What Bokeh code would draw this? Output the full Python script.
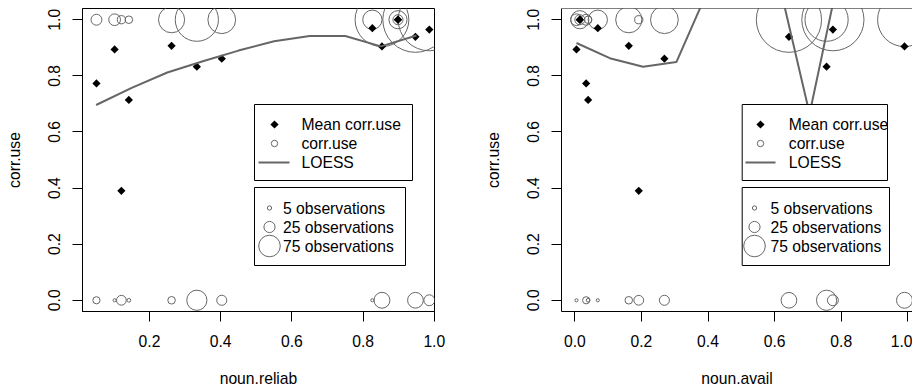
import math
from bokeh.plotting import figure
from bokeh.layouts import row
from bokeh.models import FixedTicker, Span
from bokeh.core.properties import value
from bokeh.embed import file_html
from bokeh.resources import INLINE

# ---------------- data ----------------
# one entry per noun (the noun at reliab 0.898 / avail 0.015 appears twice)
noun_reliab   = [0.051, 0.102, 0.121, 0.142, 0.262, 0.333, 0.403, 0.826, 0.853, 0.898, 0.898, 0.947, 0.986]
noun_avail    = [0.034, 0.005, 0.192, 0.040, 0.162, 0.756, 0.269, 0.069, 0.990, 0.015, 0.015, 0.643, 0.775]
mean_corr_use = [0.773, 0.894, 0.390, 0.714, 0.907, 0.8325, 0.861, 0.970, 0.905, 1.000, 1.000, 0.939, 0.965]
n_corr_use_1  = [24, 27, 15, 13, 103, 238, 114, 62, 343, 21, 56, 473, 437]
n_corr_use_0  = [12, 3, 20, 4, 13, 67, 21, 3, 45, 0, 0, 44, 24]

loess_reliab_x = [0.05, 0.15, 0.25, 0.35, 0.45, 0.55, 0.65, 0.75, 0.85, 0.95]
loess_reliab_y = [0.696, 0.757, 0.812, 0.852, 0.890, 0.923, 0.942, 0.942, 0.905, 0.944]
loess_avail_x  = [0.005, 0.105, 0.205, 0.305, 0.405, 0.505, 0.605, 0.705, 0.805, 0.905, 0.993]
loess_avail_y  = [0.917, 0.863, 0.8325, 0.849, 1.119, 1.25, 1.173, 0.665, 1.224, 1.30, 1.25]

y_ticks = [0.0, 0.2, 0.4, 0.6, 0.8, 1.0]
y_tick_labels = ["0.0", "0.2", "0.4", "0.6", "0.8", "1.0"]
reliab_ticks = [0.2, 0.4, 0.6, 0.8, 1.0]
reliab_tick_labels = ["0.2", "0.4", "0.6", "0.8", "1.0"]
avail_ticks = [0.0, 0.2, 0.4, 0.6, 0.8, 1.0]
avail_tick_labels = ["0.0", "0.2", "0.4", "0.6", "0.8", "1.0"]

legend_labels = ["Mean corr.use", "corr.use", "LOESS"]
legend_obs = [5, 25, 75]
legend_obs_labels = ["5 observations", "25 observations", "75 observations"]

# ---------------- style ----------------
FONT = "Liberation Sans"
FS = "15.7px"
GREY = "#666666"
FRAME_TOP, FRAME_H = 8, 303          # pixel coords of plot region
Y0, Y1 = -0.04, 1.04
HEIGHT = 390


def radius_px(n):
    return 0.81 * n ** 0.6


def build(xvals, xlabel, x0, x1, frame_left, frame_width, border_left, border_right,
          ticks, tick_labels, lx, ly, lg, open_right):
    p = figure(width=border_left + frame_width + border_right, height=HEIGHT,
               x_range=(x0, x1), y_range=(Y0, Y1),
               output_backend="svg", toolbar_location=None,
               min_border_left=border_left, min_border_right=border_right,
               min_border_top=FRAME_TOP, min_border_bottom=HEIGHT - FRAME_TOP - FRAME_H,
               background_fill_color="white", border_fill_color="white")
    p.grid.visible = False

    def X(px):
        return x0 + (px - frame_left) / frame_width * (x1 - x0)

    def Y(py):
        return Y1 - (py - FRAME_TOP) / FRAME_H * (Y1 - Y0)

    if open_right:
        p.outline_line_color = None
        p.add_layout(Span(location=Y1, dimension="width", line_color="black", line_width=1))
    else:
        p.outline_line_color = "black"
        p.outline_line_alpha = 1.0
        p.outline_line_width = 1

    for ax in (p.xaxis[0], p.yaxis[0]):
        ax.major_tick_in = 0
        ax.major_tick_out = 10
        ax.minor_tick_in = 0
        ax.minor_tick_out = 0
        ax.major_tick_line_color = "black"
        ax.axis_line_color = "black"
        ax.major_label_text_font = FONT
        ax.major_label_text_font_size = FS
        ax.major_label_text_color = "black"
        ax.axis_label_text_font = FONT
        ax.axis_label_text_font_size = FS
        ax.axis_label_text_font_style = "normal"
        ax.axis_label_text_color = "black"
    p.xaxis[0].ticker = FixedTicker(ticks=ticks)
    p.xaxis[0].major_label_overrides = {t: l for t, l in zip(ticks, tick_labels)}
    p.xaxis[0].major_label_standoff = 13
    p.xaxis[0].axis_label = xlabel
    p.xaxis[0].axis_label_standoff = 20
    p.yaxis[0].ticker = FixedTicker(ticks=y_ticks)
    p.yaxis[0].major_label_overrides = {t: l for t, l in zip(y_ticks, y_tick_labels)}
    p.yaxis[0].major_label_orientation = "vertical"
    p.yaxis[0].major_label_standoff = 12
    p.yaxis[0].axis_label = "corr.use"
    p.yaxis[0].axis_label_standoff = 23

    # corr.use observations (circles sized by count)
    xs1 = [x for x, n in zip(xvals, n_corr_use_1) if n > 0]
    s1 = [2 * radius_px(n) for n in n_corr_use_1 if n > 0]
    xs0 = [x for x, n in zip(xvals, n_corr_use_0) if n > 0]
    s0 = [2 * radius_px(n) for n in n_corr_use_0 if n > 0]
    p.scatter(xs1, [1.0] * len(xs1), size=s1, marker="circle",
              fill_color=None, line_color=GREY, line_width=1)
    p.scatter(xs0, [0.0] * len(xs0), size=s0, marker="circle",
              fill_color=None, line_color=GREY, line_width=1)
    # means
    p.scatter(xvals, mean_corr_use, marker="square", angle=math.pi / 4, size=5.8,
              fill_color="black", line_color=None)
    # LOESS
    p.line(lx, ly, line_color=GREY, line_width=2)

    # legends
    p.quad(left=[X(lg["left"])] * 2, right=[X(lg["r1"]), X(lg["r2"])],
           top=[Y(104), Y(187)], bottom=[Y(180), Y(265)],
           fill_color="white", line_color="black", line_width=1)
    ys1 = [Y(124), Y(143), Y(162)]
    p.scatter([X(lg["sym"])], [ys1[0]], marker="square", angle=math.pi / 4, size=5.8,
              fill_color="black", line_color=None)
    p.scatter([X(lg["sym"])], [ys1[1]], marker="circle", size=6.4,
              fill_color=None, line_color=GREY, line_width=1)
    p.line([X(lg["line_l"]), X(lg["line_r"])], [ys1[2], ys1[2]], line_color=GREY, line_width=2)
    p.text(x=[X(lg["text1"])] * 3, y=ys1, text=legend_labels,
           text_font=value(FONT), text_font_size=value(FS),
           text_baseline="middle", text_align="left", text_color="black")
    ys2 = [Y(207.5), Y(226.5), Y(245.5)]
    p.scatter([X(lg["circ"])] * 3, ys2, size=[2 * radius_px(n) for n in legend_obs],
              marker="circle", fill_color=None, line_color=GREY, line_width=1)
    p.text(x=[X(lg["text2"])] * 3, y=ys2, text=legend_obs_labels,
           text_font=value(FONT), text_font_size=value(FS),
           text_baseline="middle", text_align="left", text_color="black")
    return p


left = build(noun_reliab, "noun.reliab",
             0.2 - 67 / 356, 0.2 - 67 / 356 + 352 / 356, 82, 352, 82, 22,
             reliab_ticks, reliab_tick_labels, loess_reliab_x, loess_reliab_y,
             dict(left=254, r1=412, r2=405, sym=274, line_l=258, line_r=289,
                  text1=301, circ=269, text2=282.5),
             open_right=False)
right = build(noun_avail, "noun.avail",
              -0.04, -0.04 + 351 / 333, 561, 351, 105, 0,
              avail_ticks, avail_tick_labels, loess_avail_x, loess_avail_y,
              dict(left=741.7, r1=887, r2=889, sym=760, line_l=745, line_r=775,
                   text1=788.3, circ=754, text2=770),
              open_right=True)

layout = row(left, right, spacing=0)
open("out.html", "w").write(file_html(layout, INLINE))
